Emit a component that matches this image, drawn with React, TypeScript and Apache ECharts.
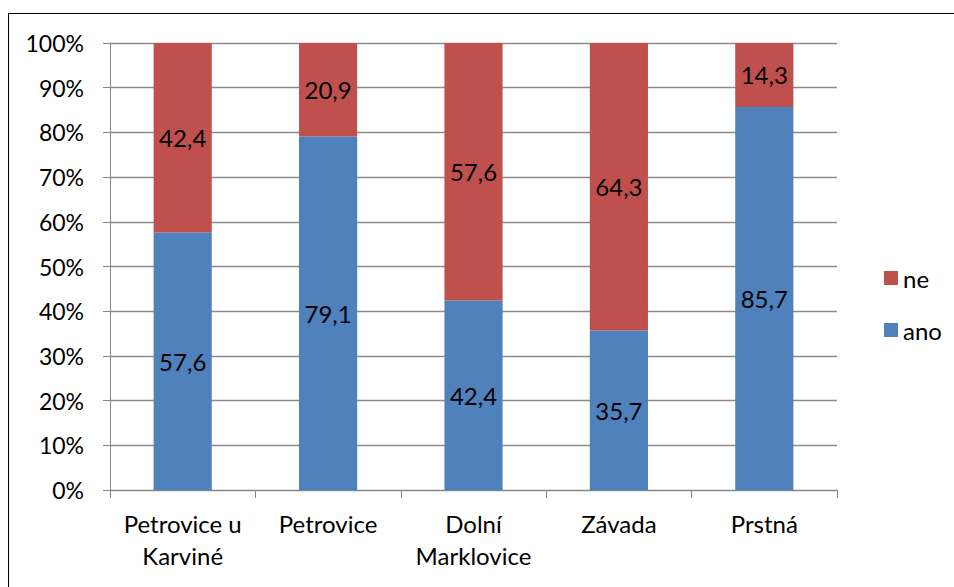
import React, { useEffect, useRef } from "react";
import * as echarts from "echarts";

const categories = ["Petrovice u\nKarviné", "Petrovice", "Dolní\nMarklovice", "Závada", "Prstná"];
const anoValues = [57.6, 79.1, 42.4, 35.7, 85.7];
const neValues = [42.4, 20.9, 57.6, 64.3, 14.3];
const seriesNames = ["ano", "ne"];

const FONT = "Lato";

export default function App() {
  const ref = useRef<HTMLDivElement>(null);
  useEffect(() => {
    if (!ref.current) return;
    const chart = echarts.init(ref.current, undefined, { renderer: "svg" });
    const fmt = (p: any) => String(p.value).replace(".", ",");
    chart.setOption({
      animation: false,
      textStyle: { fontFamily: FONT },
      graphic: [
        {
          type: "rect",
          shape: { x: 8.5, y: 13.5, width: 1000, height: 700 },
          style: { fill: "none", stroke: "#000", lineWidth: 1 },
          silent: true,
        },
      ],
      grid: { left: 110, top: 43, right: 117, bottom: 97 },
      legend: {
        orient: "vertical",
        left: 879,
        top: 261,
        itemWidth: 14,
        itemHeight: 14,
        itemGap: 28,
        icon: "rect",
        data: [seriesNames[1], seriesNames[0]],
        textStyle: { fontSize: 24, lineHeight: 20, color: "#000", fontFamily: FONT, padding: [0, 0, 0, 0] },
      },
      xAxis: {
        type: "category",
        data: categories,
        axisLine: { lineStyle: { color: "#868686", width: 1 } },
        axisTick: { show: true, alignWithLabel: false, length: 8, lineStyle: { color: "#868686" } },
        axisLabel: { interval: 0, color: "#000", fontSize: 24, lineHeight: 32, margin: 17, fontFamily: FONT },
      },
      yAxis: {
        type: "value",
        min: 0,
        max: 100,
        interval: 10,
        axisLine: { show: true, lineStyle: { color: "#868686", width: 1 } },
        axisTick: { show: true, length: 7, lineStyle: { color: "#868686" } },
        axisLabel: { formatter: "{value}%", color: "#000", fontSize: 23, margin: 26, fontFamily: FONT },
        splitLine: { lineStyle: { color: "#8c8c8c", width: 1.3 } },
      },
      series: [
        {
          name: seriesNames[0],
          type: "bar",
          stack: "total",
          data: anoValues,
          barWidth: "40%",
          itemStyle: { color: "#4F81BD" },
          label: { show: true, position: "inside", color: "#000", fontSize: 24, formatter: fmt, fontFamily: FONT },
        },
        {
          name: seriesNames[1],
          type: "bar",
          stack: "total",
          data: neValues,
          barWidth: "40%",
          itemStyle: { color: "#C0504D" },
          label: { show: true, position: "inside", color: "#000", fontSize: 24, formatter: fmt, fontFamily: FONT },
        },
      ],
    });
    return () => chart.dispose();
  }, []);
  return (
    <div
      ref={ref}
      style={{ position: "absolute", left: 0, top: 0, width: 954, height: 587, background: "#fff" }}
    />
  );
}
